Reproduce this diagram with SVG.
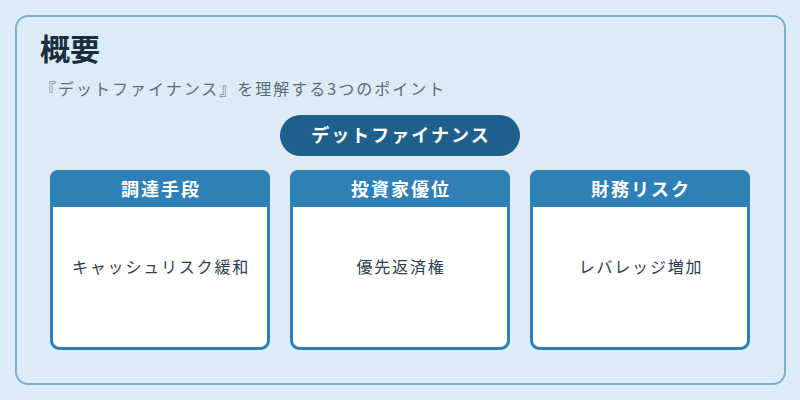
<svg xmlns="http://www.w3.org/2000/svg" width="800" height="400" viewBox="0 0 800 400">
<style>
.t{font-family:"Noto Sans CJK JP","Noto Sans",sans-serif}
.hdr{font-size:18px;font-weight:bold;fill:#ffffff;text-anchor:middle;letter-spacing:2px}
.body{font-size:16px;fill:#2c3e50;text-anchor:middle;letter-spacing:1.8px}
.card{fill:#ffffff;stroke:#2e80b6;stroke-width:3}
.cardh{fill:#2e80b6}
</style>
<rect x="0" y="0" width="800" height="400" fill="#dcebf6"/>
<rect x="16" y="16" width="769" height="368" rx="12" fill="#dcebf6" stroke="#7ab0d2" stroke-width="2"/>
<text class="t" x="40" y="60" font-size="30" font-weight="bold" fill="#1a2e40">概要</text>
<text class="t" x="40" y="95" font-size="16" fill="#5a6b7a" letter-spacing="2">『デットファイナンス』を理解する3つのポイント</text>
<g id="center">
<rect x="280" y="115" width="240" height="41" rx="20.5" fill="#1f5f8b"/>
<text class="t hdr" x="401" y="142">デットファイナンス</text>
</g>
<g id="connectors"></g>
<g id="card1">
<rect class="card" x="51.5" y="171.5" width="217" height="177" rx="8"/>
<path class="cardh" d="M50 207 V178 a8 8 0 0 1 8 -8 H262 a8 8 0 0 1 8 8 V207 Z"/>
<text class="t hdr" x="161" y="196">調達手段</text>
<text class="t body" x="161" y="273">キャッシュリスク緩和</text>
</g>
<g id="card2">
<rect class="card" x="291.5" y="171.5" width="217" height="177" rx="8"/>
<path class="cardh" d="M290 207 V178 a8 8 0 0 1 8 -8 H502 a8 8 0 0 1 8 8 V207 Z"/>
<text class="t hdr" x="401" y="196">投資家優位</text>
<text class="t body" x="401" y="273">優先返済権</text>
</g>
<g id="card3">
<rect class="card" x="531.5" y="171.5" width="217" height="177" rx="8"/>
<path class="cardh" d="M530 207 V178 a8 8 0 0 1 8 -8 H742 a8 8 0 0 1 8 8 V207 Z"/>
<text class="t hdr" x="641" y="196">財務リスク</text>
<text class="t body" x="641" y="273">レバレッジ増加</text>
</g>
</svg>
